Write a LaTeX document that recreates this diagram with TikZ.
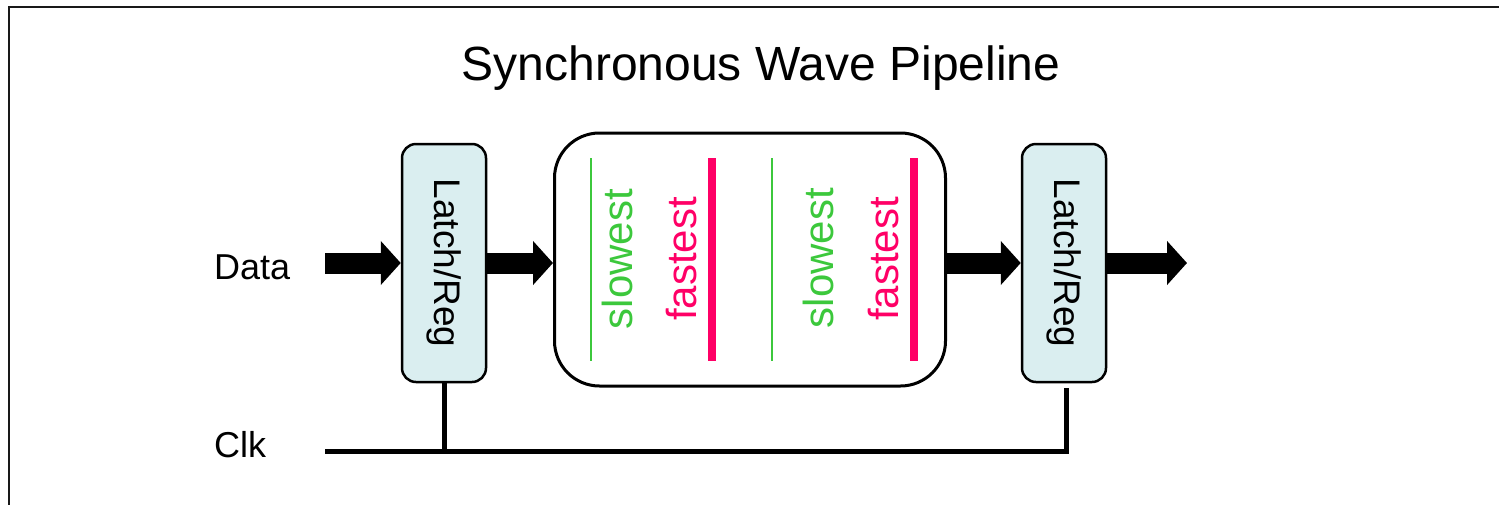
\documentclass[tikz,border=0pt]{standalone}
\usepackage{fontspec}
\setmainfont{Liberation Sans}
\usetikzlibrary{arrows.meta}
\definecolor{latchfill}{RGB}{218,238,240}
\definecolor{slowgreen}{RGB}{60,200,60}
\definecolor{fastred}{RGB}{255,0,102}
\tikzset{
  latchbox/.style={draw=black, fill=latchfill, line width=2.5pt, rounded corners=14pt,
    minimum width=84pt, minimum height=238pt, inner sep=0pt},
  latchtext/.style={font=\fontsize{37}{41}\selectfont, rotate=-90, inner sep=0pt},
  wavebox/.style={draw=black, line width=3pt, rounded corners=45pt,
    minimum width=391pt, minimum height=253pt, inner sep=0pt},
  labeltext/.style={font=\fontsize{36}{40}\selectfont, inner sep=0pt, anchor=base west},
  slowtext/.style={font=\fontsize{42}{46}\selectfont, text=slowgreen, rotate=90, inner sep=0pt},
  fasttext/.style={font=\fontsize{42}{46}\selectfont, text=fastred, rotate=90, inner sep=0pt},
  slowline/.style={draw=slowgreen, line width=2pt},
  fastline/.style={draw=fastred, line width=8pt},
  bigarrow/.style={draw=black, line width=21pt, -{Triangle[length=20pt, width=43pt]}},
  clkline/.style={draw=black, line width=5pt},
  frameline/.style={draw=black!90, line width=2.5pt},
}
\begin{document}
\begin{tikzpicture}[x=1pt, y=-1pt]
\useasboundingbox (0,0) rectangle (1499,504);
% frame
\draw[frameline] (9,510) -- (9,7) -- (1510,7);
% title
\node[font=\fontsize{48}{53}\selectfont, inner sep=0pt, anchor=base] (title) at (761,80) {Synchronous Wave Pipeline};
% labels
\node[labeltext] (data) at (214,279) {Data};
\node[labeltext] (clk) at (214,457) {Clk};
% latches
\node[latchbox] (latch1) at (444,263) {};
\node[latchtext] (latch1t) at (latch1.center) {Latch/Reg};
\node[latchbox] (latch2) at (1064,263) {};
\node[latchtext] (latch2t) at (latch2.center) {Latch/Reg};
% wave box
\node[wavebox] (wave) at (750,259.5) {};
% lines inside
\coordinate (g1t) at (591,158); \coordinate (g1b) at (591,361);
\coordinate (r1t) at (712,158); \coordinate (r1b) at (712,361);
\coordinate (g2t) at (772,158); \coordinate (g2b) at (772,361);
\coordinate (r2t) at (914,158); \coordinate (r2b) at (914,361);
\draw[slowline] (g1t) -- (g1b);
\draw[fastline] (r1t) -- (r1b);
\draw[slowline] (g2t) -- (g2b);
\draw[fastline] (r2t) -- (r2b);
\node[slowtext] (slow1) at (617,259) {slowest};
\node[fasttext] (fast1) at (682,259) {fastest};
\node[slowtext] (slow2) at (818,258) {slowest};
\node[fasttext] (fast2) at (883,259) {fastest};
% data arrows
\coordinate (din) at (325,263);
\coordinate (dout) at (1187,263);
\draw[bigarrow] (din) -- (latch1.west);
\draw[bigarrow] (latch1.east) -- (wave.west |- latch1.east);
\draw[bigarrow] (wave.east |- latch2.west) -- (latch2.west);
\draw[bigarrow] (latch2.east) -- (dout);
% clock
\coordinate (clkin) at (325,451);
\coordinate (clkend) at (1066,451);
\draw[clkline, shorten >=5pt] (clkin) -- (clkend) -- (clkend |- latch2.south);
\draw[clkline] (latch1.south) -- (latch1.south |- clkin);
\end{tikzpicture}
\end{document}
